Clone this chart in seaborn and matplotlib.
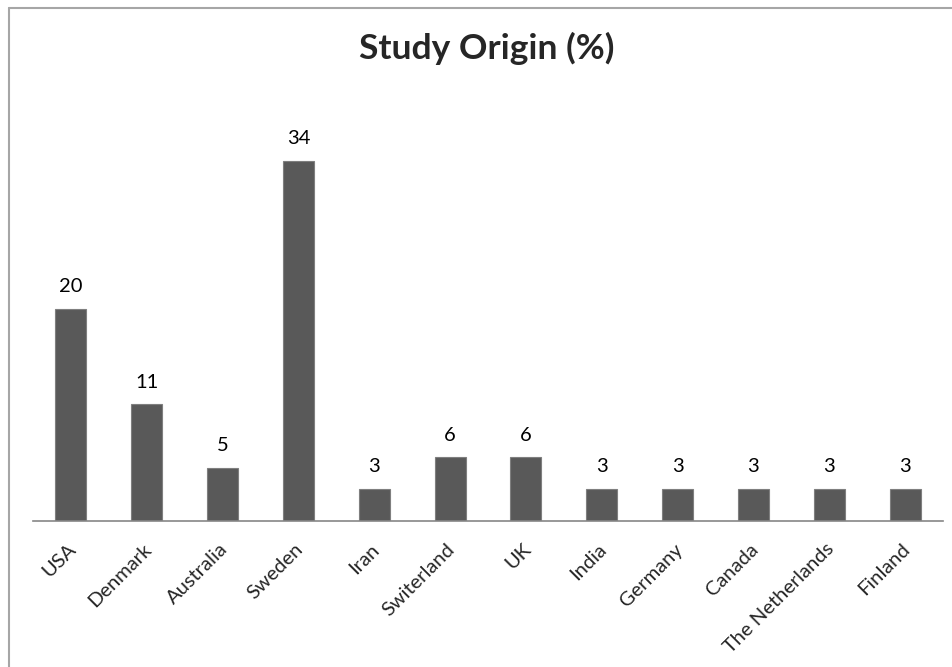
import matplotlib
matplotlib.use("Agg")
import matplotlib.pyplot as plt
import matplotlib.transforms as mtransforms
import seaborn as sns
import pandas as pd

countries = ["USA", "Denmark", "Australia", "Sweden", "Iran", "Switerland", "UK",
             "India", "Germany", "Canada", "The Netherlands", "Finland"]
percent = [20, 11, 5, 34, 3, 6, 6, 3, 3, 3, 3, 3]

sns.set_style("white")
plt.rcParams['font.family'] = ['Lato', 'DejaVu Sans']

df = pd.DataFrame({"country": countries, "percent": percent})

fig = plt.figure(figsize=(9.52, 6.67), dpi=100)
ax = fig.add_axes([33/952, 146/667, 910/952, 424/667])
sns.barplot(data=df, x="country", y="percent", color="#595959", width=0.41,
            edgecolor="#7f7f7f", linewidth=0.8, saturation=1, ax=ax)
ax.set_xlim(-0.5, len(countries) - 0.5)
ax.set_ylim(0, 40)
for c in ax.containers:
    ax.bar_label(c, labels=[str(v) for v in percent], padding=10, fontsize=14.5, color="#000000")
for s in ["top", "right", "left"]:
    ax.spines[s].set_visible(False)
ax.spines["bottom"].set_color("#868686")
ax.spines["bottom"].set_linewidth(1.2)
ax.set_yticks([])
ax.set_xlabel("")
ax.set_ylabel("")
ax.tick_params(axis="x", length=0, pad=14)
offset = mtransforms.ScaledTranslation(-4/100, 0, fig.dpi_scale_trans)
for lbl in ax.get_xticklabels():
    lbl.set_rotation(45)
    lbl.set_ha("right")
    lbl.set_rotation_mode("anchor")
    lbl.set_fontsize(14.5)
    lbl.set_transform(lbl.get_transform() + offset)
fig.text(487/952, 1 - 59/667, "Study Origin (%)", ha="center", va="baseline",
         fontsize=25.5, fontweight="bold")
# outer border (top and left visible)
fig.add_artist(plt.Line2D([9/952, 9/952], [0, 1 - 8/667], color="#a6a6a6", lw=1.5,
                          transform=fig.transFigure))
fig.add_artist(plt.Line2D([9/952, 1], [1 - 8/667, 1 - 8/667], color="#a6a6a6", lw=1.5,
                          transform=fig.transFigure))
fig.savefig("out.png", dpi=100)
